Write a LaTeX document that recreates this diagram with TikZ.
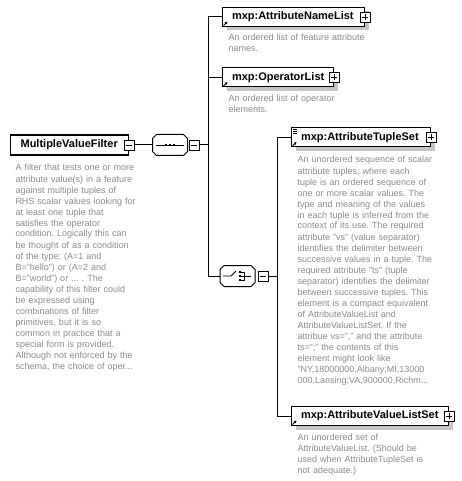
\documentclass[tikz,border=0pt]{standalone}
\usepackage{fontspec}
\setmainfont{Liberation Sans}
\usetikzlibrary{arrows.meta,positioning,shadows}
\definecolor{docgray}{RGB}{138,138,138}
\definecolor{shadowgray}{RGB}{196,196,196}
\frenchspacing

% octagon frame of a compositor node, with its shadow
\newcommand{\compframe}[1]{%
  \fill[shadowgray, shift={(3,3)}] ([xshift=4pt]#1.north west) -- ([xshift=-4pt]#1.north east) -- ([yshift=-4pt]#1.north east) -- ([yshift=4pt]#1.south east) -- ([xshift=-4pt]#1.south east) -- ([xshift=4pt]#1.south west) -- ([yshift=4pt]#1.south west) -- ([yshift=-4pt]#1.north west) -- cycle;
  \draw[fill=white] ([xshift=4pt]#1.north west) -- ([xshift=-4pt]#1.north east) -- ([yshift=-4pt]#1.north east) -- ([yshift=4pt]#1.south east) -- ([xshift=-4pt]#1.south east) -- ([xshift=4pt]#1.south west) -- ([yshift=4pt]#1.south west) -- ([yshift=-4pt]#1.north west) -- cycle;}

\begin{document}
\begin{tikzpicture}[x=1pt, y=-1pt, line width=1pt,
    boxshadow/.style={drop shadow={shadow xshift=4pt, shadow yshift=-4pt, fill=shadowgray, opacity=1}},
    root/.style={draw, fill=white, anchor=west, line width=1.2pt, minimum height=20pt, inner xsep=10pt, inner ysep=0pt, align=left, font=\fontsize{11}{13}\selectfont\bfseries},
    elem/.style={draw, fill=white, anchor=west, minimum height=19pt, inner xsep=9.5pt, inner ysep=0pt, align=left, font=\fontsize{11}{13}\selectfont\bfseries, boxshadow},
    doc/.style={anchor=base west, inner sep=0pt, text width=170pt, align=left, text=docgray, font=\fontsize{9}{11}\selectfont},
    comp/.style={rectangle, minimum width=34pt, minimum height=20pt, inner sep=0pt},
    minusbox/.style={draw, fill=white, minimum size=10pt, inner sep=0pt, line width=0.8pt,
      path picture={\draw[line width=0.8pt] ([xshift=2pt]path picture bounding box.west) -- ([xshift=-2pt]path picture bounding box.east);}},
    plusbox/.style={minusbox, path picture={\draw[line width=0.8pt] ([xshift=2pt]path picture bounding box.west) -- ([xshift=-2pt]path picture bounding box.east) ([yshift=-2pt]path picture bounding box.north) -- ([yshift=2pt]path picture bounding box.south);}},
    refarrow/.style={-{Triangle[length=2.5pt,width=2.6pt]}, line width=0.8pt},
    glyph/.style={line width=0.8pt}]
  \useasboundingbox (0,0) rectangle (462,481);

  \node[root, text width=98pt] (mvf) at (10,145) {MultipleValueFilter};
  \node[minusbox] (mvfm) at (mvf.east) {};
  \node[doc] (mvfdoc) at (15,171) {A filter that tests one or more\\attribute value(s) in a feature\\against multiple tuples of\\RHS scalar values looking for\\at least one tuple that\\satisfies the operator\\condition. Logically this can\\be thought of as a condition\\of the type: (A=1 and\\B="hello") or (A=2 and\\B="world") or ... . The\\capability of this filter could\\be expressed using\\combinations of filter\\primitives, but it is so\\common in practice that a\\special form is provided.\\Although not enforced by the\\schema, the choice of oper...};

  \node[comp] (seq) at (170,145) {};
  \compframe{seq}
  \node[minusbox, anchor=west] (seqm) at ([xshift=1pt]seq.east) {};
  \draw[glyph] (156,145) -- (184,145);
  \foreach \sx in {166,170,174}
    \fill (\sx-1.3,143.7) rectangle ++(2.6,2.6);
  \coordinate (busA) at (208,145);

  \node[elem, text width=123pt] (anl) at (222,17) {mxp:AttributeNameList};
  \node[plusbox] (anlp) at (anl.east) {};
  \draw[refarrow] ([shift={(1.5,-1.5)}]anl.south west) -- ++(4,-4);
  \node[doc] (anldoc) at (228,41) {An ordered list of feature attribute\\names.};

  \node[elem, text width=92pt] (opl) at (222,77.5) {mxp:OperatorList};
  \node[plusbox] (oplp) at (opl.east) {};
  \draw[refarrow] ([shift={(1.5,-1.5)}]opl.south west) -- ++(4,-4);
  \node[doc] (opldoc) at (228,102) {An ordered list of operator\\elements.};

  \node[comp] (cho) at (237.5,276) {};
  \compframe{cho}
  \node[minusbox, anchor=west] (chom) at ([xshift=2.5pt]cho.east) {};
  \draw[glyph] (223,276) -- (231,276) -- (236,271);
  \foreach \sy in {272,276,280}
    \fill (238.5,\sy-1.2) rectangle ++(2.4,2.4);
  \draw[glyph] (241,272) -- (244,272) -- (244,280) -- (241,280) (241,276) -- (251,276);
  \coordinate (busB) at (277,276);

  \node[elem, text width=120pt] (ats) at (291,137.5) {mxp:AttributeTupleSet};
  \node[plusbox] (atsp) at (ats.east) {};
  \draw[refarrow] ([shift={(1.5,-1.5)}]ats.south west) -- ++(4,-4);
  \foreach \ly in {129.5,131.5,133.5}
    \draw[line width=0.6pt] (293,\ly) -- (297,\ly);
  \node[doc] (atsdoc) at (297,163) {An unordered sequence of scalar\\attribute tuples, where each\\tuple is an ordered sequence of\\one or more scalar values. The\\type and meaning of the values\\in each tuple is inferred from the\\context of its use. The required\\attribute "vs" (value separator)\\identifies the delimiter between\\successive values in a tuple. The\\required attribute "ts" (tuple\\separator) identifies the delimiter\\between successive tuples. This\\element is a compact equivalent\\of AttributeValueList and\\AttributeValueListSet. If the\\attribue vs="," and the attribute\\ts=";" the contents of this\\element might look like\\"NY,18000000,Albany;MI,13000\\000,Lansing;VA,900000,Richm...};

  \node[elem, text width=138pt] (avls) at (291,416) {mxp:AttributeValueListSet};
  \node[plusbox] (avlsp) at (avls.east) {};
  \draw[refarrow] ([shift={(1.5,-1.5)}]avls.south west) -- ++(4,-4);
  \node[doc] (avlsdoc) at (297,440) {An unordered set of\\AttributeValueList. (Should be\\used when AttributeTupleSet is\\not adequate.)};

  \draw (mvfm.east) -- (seq.west);
  \draw (seqm.east) -- (busA);
  \draw (busA) |- (anl.west);
  \draw (busA) |- (opl.west);
  \draw (busA) |- (cho.west);
  \draw (chom.east) -- (busB);
  \draw (busB) |- (ats.west);
  \draw (busB) |- (avls.west);
\end{tikzpicture}
\end{document}
